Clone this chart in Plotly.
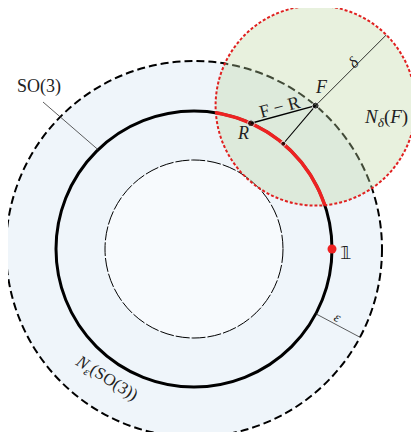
import numpy as np
import plotly.graph_objects as go

# ---- data (diagram geometry, in px-like units, centre of SO(3) at origin) ----
circle_names = ["inner", "SO(3)", "N_eps(SO(3))"]
circle_radii = [89, 138, 188]
F_polar = [188, 49.7]          # radius, angle (deg) of point F
delta_radius = [100]           # radius of N_delta(F)
R_angle = [65.6]               # angle (deg) of R on SO(3)
identity_angle = [0.0]         # angle of identity element
eps_angle = [-28.0]            # angle of epsilon marker
delta_dir = [45.0]             # direction of delta marker
so3_leader_angle = [134.0]

label_texts = ["SO(3)", "<i>F</i>", "<i>R</i>", "F − R", "<i>δ</i>",
               "<i>N</i><sub><i>δ</i></sub>(<i>F</i>)", "𝟙", "<i>ε</i>",
               "<i>N</i><sub><i>ε</i></sub>(SO(3))"]

# ---- derived geometry ----
r_in, r_so3, r_out = circle_radii
rho = delta_radius[0]
Fr, Fa = F_polar

def pol(r, a):
    return np.array([r * np.cos(np.radians(a)), r * np.sin(np.radians(a))])

F = pol(Fr, Fa)
# intersection of SO(3) circle with N_delta(F)
half = np.degrees(np.arccos((Fr**2 + r_so3**2 - rho**2) / (2 * Fr * r_so3)))
arc_t = np.linspace(Fa - half, Fa + half, 200)
arc = np.array([pol(r_so3, t) for t in arc_t])

R = pol(r_so3, R_angle[0])
P = pol(r_so3, Fa)
D = F + pol(rho, delta_dir[0])
one = pol(r_so3, identity_angle[0])
e0, e1 = pol(r_so3, eps_angle[0]), pol(r_out, eps_angle[0])
s0 = pol(r_so3, so3_leader_angle[0])

fig = go.Figure()

shapes = []
def circ(cx, cy, r, **kw):
    return dict(type="circle", xref="x", yref="y", x0=cx - r, x1=cx + r,
                y0=cy - r, y1=cy + r, layer="below", **kw)

shapes.append(circ(0, 0, r_out, fillcolor="#eff5fa",
                   line=dict(color="black", width=2, dash="8px,4px")))
shapes.append(circ(0, 0, r_in, fillcolor="#f7fafd",
                   line=dict(color="black", width=1, dash="14px,2px")))
shapes.append(circ(0, 0, r_so3, fillcolor="rgba(0,0,0,0)",
                   line=dict(color="black", width=3)))
shapes.append(circ(F[0], F[1], rho, fillcolor="rgba(190,215,160,0.35)",
                   line=dict(color="#e02020", width=2, dash="3px,2px")))

def seg(p, q, w, color="black"):
    fig.add_trace(go.Scatter(x=[p[0], q[0]], y=[p[1], q[1]], mode="lines",
                             line=dict(color=color, width=w), hoverinfo="skip",
                             showlegend=False))

fig.add_trace(go.Scatter(x=arc[:, 0], y=arc[:, 1], mode="lines",
                         line=dict(color="#ee2222", width=3.5), showlegend=False))
seg(F, R, 1.5)
seg(F, P, 1.1)
seg(F, D, 0.8)
seg(e0, e1, 0.8, "#333")
seg(np.array([-151, 147]), s0, 0.8, "#333")

fig.add_trace(go.Scatter(x=[F[0], R[0], P[0]], y=[F[1], R[1], P[1]], mode="markers",
                         marker=dict(color="black", size=[7, 7, 5]), showlegend=False))
fig.add_trace(go.Scatter(x=[one[0]], y=[one[1]], mode="markers",
                         marker=dict(color="#ee2222", size=9), showlegend=False))

label_pos = [(-155, 163), (127, 162), (49, 116), (85, 142), (159, 187),
             (192, 131), (151, -3), (144, -68), (-88, -130)]
label_angle = [0, 0, 0, -15, -45, 0, 0, 28, 32]
label_size = [18, 18, 18, 18, 16, 19, 18, 14, 17]
label_font = ["Liberation Serif"] * 6 + ["DejaVu Sans"] + ["Liberation Serif"] * 2
for t, (x, y), a, s, fnt in zip(label_texts, label_pos, label_angle, label_size, label_font):
    fig.add_annotation(x=x, y=y, text=t, showarrow=False, textangle=a,
                       font=dict(family=fnt, size=s, color="#222222"))

# page body has an 8px margin: shrink the figure and shift the ranges to compensate
fig.update_layout(width=411, height=424, margin=dict(l=0, r=0, t=0, b=0),
                  paper_bgcolor="white", plot_bgcolor="white", shapes=shapes,
                  showlegend=False)
fig.update_xaxes(range=[-186, 225], visible=False, showgrid=False, zeroline=False)
fig.update_yaxes(range=[-183, 241], visible=False, showgrid=False, zeroline=False,
                 scaleanchor="x", scaleratio=1)
fig.write_html("out.html")
